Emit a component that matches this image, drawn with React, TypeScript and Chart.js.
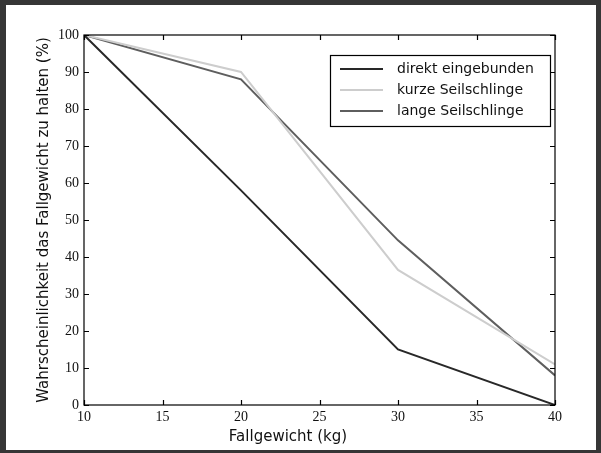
import React, { useEffect, useRef } from "react";
import { Chart, registerables } from "chart.js";

Chart.register(...registerables);

const weights = [10, 20, 30, 40];
const direkt = [100, 58, 15, 0];
const kurze = [100, 90, 36.5, 11];
const lange = [100, 88, 44.5, 8];
const seriesNames = ["direkt eingebunden", "kurze Seilschlinge", "lange Seilschlinge"];
const seriesColors = ["#282828", "#cdcdcd", "#5e5e5e"];
const xTicks = [10, 15, 20, 25, 30, 35, 40];
const yTicks = [0, 10, 20, 30, 40, 50, 60, 70, 80, 90, 100];
const xTitle = "Fallgewicht (kg)";
const yTitle = "Wahrscheinlichkeit das Fallgewicht zu halten (%)";

const W = 601;
const H = 453;

const decorPlugin = {
  id: "decor",
  beforeDraw(chart: any) {
    const ctx = chart.ctx;
    ctx.save();
    ctx.fillStyle = "#363636";
    ctx.fillRect(0, 0, W, H);
    ctx.fillStyle = "#ffffff";
    ctx.fillRect(6, 5, W - 6 - 5, H - 5 - 3);
    ctx.restore();
  },
  afterDraw(chart: any) {
    const ctx = chart.ctx;
    const a = chart.chartArea;
    const xs = chart.scales.x;
    const ys = chart.scales.y;
    ctx.save();
    // frame
    ctx.strokeStyle = "#000";
    ctx.lineWidth = 1.2;
    ctx.strokeRect(a.left, a.top, a.right - a.left, a.bottom - a.top);
    // inward ticks
    ctx.beginPath();
    const tl = 5;
    xTicks.forEach((v) => {
      const px = Math.round(xs.getPixelForValue(v)) + 0.5;
      ctx.moveTo(px, a.bottom);
      ctx.lineTo(px, a.bottom - tl);
      ctx.moveTo(px, a.top);
      ctx.lineTo(px, a.top + tl);
    });
    yTicks.forEach((v) => {
      const py = Math.round(ys.getPixelForValue(v)) + 0.5;
      ctx.moveTo(a.left, py);
      ctx.lineTo(a.left + tl, py);
      ctx.moveTo(a.right, py);
      ctx.lineTo(a.right - tl, py);
    });
    ctx.stroke();

    // axis titles
    ctx.fillStyle = "#111";
    ctx.font = "15px 'DejaVu Sans'";
    ctx.textAlign = "center";
    ctx.textBaseline = "middle";
    ctx.fillText(xTitle, 288, 437);
    ctx.save();
    ctx.translate(44, (a.top + a.bottom) / 2);
    ctx.rotate(-Math.PI / 2);
    ctx.fillText(yTitle, 0, 0);
    ctx.restore();

    // legend
    const lx = 330, ly = 55, lw = 220, lh = 71;
    ctx.fillStyle = "#fff";
    ctx.fillRect(lx, ly, lw, lh);
    ctx.strokeStyle = "#000";
    ctx.lineWidth = 1.2;
    ctx.strokeRect(lx + 0.5, ly + 0.5, lw, lh);
    ctx.font = "14px 'DejaVu Sans'";
    ctx.textAlign = "left";
    seriesNames.forEach((name, i) => {
      const y = ly + 14 + i * 21;
      ctx.strokeStyle = seriesColors[i];
      ctx.lineWidth = 2;
      ctx.beginPath();
      ctx.moveTo(lx + 10, y);
      ctx.lineTo(lx + 53, y);
      ctx.stroke();
      ctx.fillStyle = "#111";
      ctx.fillText(name, lx + 67, y);
    });
    ctx.restore();
  },
};

export default function App() {
  const ref = useRef<HTMLCanvasElement | null>(null);
  useEffect(() => {
    document.body.style.margin = "0";
    const mk = (vals: number[]) => weights.map((w, i) => ({ x: w, y: vals[i] }));
    const chart = new Chart(ref.current as HTMLCanvasElement, {
      type: "line",
      data: {
        datasets: [direkt, kurze, lange].map((vals, i) => ({
          label: seriesNames[i],
          data: mk(vals),
          borderColor: seriesColors[i],
          backgroundColor: seriesColors[i],
          borderWidth: 2,
          pointRadius: 0,
          tension: 0,
        })),
      },
      options: {
        animation: false,
        responsive: false,
        maintainAspectRatio: false,
        layout: { padding: { left: 0, top: 35, right: 46, bottom: 0 } },
        plugins: { legend: { display: false }, tooltip: { enabled: false } },
        scales: {
          x: {
            type: "linear",
            min: 10,
            max: 40,
            afterFit: (s: any) => { s.height = 48; },
            afterBuildTicks: (s: any) => { s.ticks = xTicks.map((v) => ({ value: v })); },
            grid: { display: false, drawTicks: false },
            border: { display: false },
            ticks: { padding: 4, color: "#111", font: { family: "'Liberation Serif'", size: 14 }, maxRotation: 0 },
          },
          y: {
            type: "linear",
            min: 0,
            max: 100,
            afterFit: (s: any) => { s.width = 84; },
            afterBuildTicks: (s: any) => { s.ticks = yTicks.map((v) => ({ value: v })); },
            grid: { display: false, drawTicks: false },
            border: { display: false },
            ticks: { padding: 5, color: "#111", font: { family: "'Liberation Serif'", size: 14 } },
          },
        },
      },
      plugins: [decorPlugin],
    });
    return () => chart.destroy();
  }, []);
  return <canvas ref={ref} width={W} height={H} style={{ display: "block" }} />;
}
